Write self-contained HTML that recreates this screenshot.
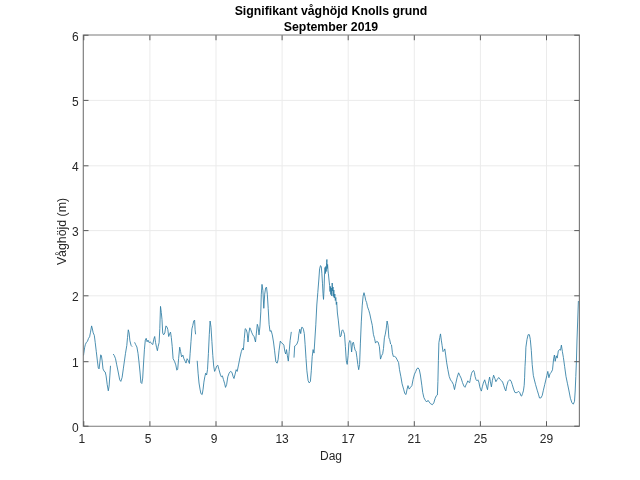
<!DOCTYPE html>
<html><head><meta charset="utf-8"><style>
html,body{margin:0;padding:0;background:#fff;width:640px;height:480px;overflow:hidden}
svg{display:block;will-change:transform}
text{font-family:"Liberation Sans",sans-serif}
</style></head><body>
<svg width="640" height="480" viewBox="0 0 640 480">
<rect width="640" height="480" fill="#fff"/>
<path d="M149.90 35.25V426.2M216.00 35.25V426.2M282.10 35.25V426.2M348.20 35.25V426.2M414.30 35.25V426.2M480.40 35.25V426.2M546.50 35.25V426.2M83.5 361.70H579.25M83.5 295.80H579.25M83.5 230.60H579.25M83.5 165.80H579.25M83.5 100.40H579.25" stroke="#ebebeb" stroke-width="1" fill="none"/>
<g fill="none" stroke="#2d7ca3" stroke-width="0.85" stroke-linejoin="round"><polyline points="83.5,355.5 83.8,353.3 84.6,347.8 85.3,344.7 86.4,342.3 87.4,341.5 88.5,338.4 89.6,336.8 90.5,332.2 91.6,325.9 92.4,329.0 93.2,332.9 94.3,335.3 95.2,342.3 96.3,351.7 97.4,361.1 98.3,368.1 99.1,368.9 99.9,361.8 100.7,354.8 101.4,355.6 102.2,361.1 103.0,368.9 104.1,371.2 105.2,372.0 106.1,375.9 107.2,384.5 108.3,390.8 109.1,386.1 109.9,375.1 110.5,365.8"/><polyline points="113.2,354.0 114.3,355.6 115.5,358.7 116.6,364.2 118.2,372.0 119.7,379.8 120.8,381.4 122.1,377.5 123.3,368.9 124.4,361.1 125.5,353.3 126.8,345.4 127.5,337.6 128.3,329.8 129.1,332.9 129.9,340.8 131.1,345.4 132.2,346.7"/><polyline points="134.6,342.3 135.7,344.7 136.9,347.0 138.0,353.3 138.9,361.1 140.0,372.0 140.9,382.6 141.8,383.5 142.7,378.1 143.5,364.0 144.4,349.8 145.3,340.1 146.2,338.3 147.1,341.8 148.0,340.1 149.2,342.7 150.3,341.8 151.5,343.6 152.8,344.5 153.8,339.2 154.7,336.5 155.6,342.7 156.5,347.2 157.4,350.7 158.2,346.3 159.1,342.7 159.8,328.6 160.5,306.4 161.3,312.6 162.0,319.7 162.7,333.0 163.6,334.8 164.8,333.0 165.9,325.9 166.9,326.8 167.8,329.4 168.7,336.5 169.6,333.9 170.5,332.1 171.3,337.4 172.2,346.3 173.1,358.7 174.5,361.3 175.8,364.9 176.8,370.2 177.7,369.3 178.6,358.7 179.7,347.2 180.6,351.6 181.6,356.9 182.9,355.1 183.9,358.7 185.2,361.3 186.0,363.1 187.1,358.7 188.2,360.4 189.4,363.5 190.1,353.7 191.0,341.3 191.9,328.9 192.8,325.4 193.7,321.0 194.6,320.1 195.1,329.8 195.6,334.3"/><polyline points="197.2,360.8 198.1,373.2 199.0,383.0 200.0,389.1 200.9,393.6 202.2,394.5 203.1,389.1 203.9,382.1 204.8,376.8 205.7,373.2 206.6,375.0 207.5,369.7 208.4,353.7 209.3,334.3 210.1,321.0 211.0,327.2 211.9,341.3 212.8,355.5 213.7,366.1 214.6,371.4 215.4,369.7 216.7,366.1 217.8,365.2 219.0,369.7 220.2,374.1 221.3,376.8 222.4,375.9 223.4,379.4 224.7,383.8 225.5,387.4 226.6,384.7 227.8,376.8 229.1,373.2 230.5,371.4 231.9,372.3 233.2,376.8 234.0,378.5 235.1,374.1 236.2,369.7 237.2,371.4 238.7,364.1 239.9,357.9 241.3,351.7 242.6,348.2 243.4,349.9 244.3,338.4 245.2,328.7 246.3,329.6 247.2,333.1 248.0,342.0 248.9,333.1 249.8,327.8 250.7,329.6 251.6,332.2 252.8,334.9 254.1,336.7 255.5,342.0 256.4,333.1 257.3,324.3 258.1,326.9 259.0,334.9 259.9,326.9 260.8,311.9 261.3,294.2 262.0,284.4 262.9,290.6 263.8,308.3 264.7,294.2 265.6,288.0 266.5,287.1 267.3,294.2 268.2,308.3 269.1,324.3 270.0,331.4 271.1,330.5 272.3,334.9 273.5,342.0 274.6,350.8 275.8,361.5 277.1,363.2 278.1,359.7 279.0,350.8 280.3,341.1 281.5,342.9 282.9,343.8 283.9,345.2 284.8,351.4 285.7,354.0 286.5,349.6 287.4,355.8 288.3,361.1 289.2,351.4 290.1,340.7 291.3,331.9"/><polyline points="294.0,357.6 294.7,346.0 295.8,345.2 296.8,344.3 298.1,340.7 298.9,333.6 299.8,329.2 300.7,333.6 301.6,327.4 302.5,327.4 303.4,329.2 304.3,333.6 305.1,344.3 306.0,358.4 306.9,370.8 308.1,380.6 309.2,382.9 310.4,381.5 311.3,370.8 312.2,356.7 313.1,349.6 314.0,353.1 314.9,339.0 315.8,324.8 316.8,305.0 317.8,292.5 318.8,280.0 319.6,268.8 320.5,265.6 321.3,266.9 321.9,273.8 322.5,283.8 323.0,293.8 323.5,299.4 324.0,290.0 324.5,275.0 325.0,267.5 325.4,273.5 325.8,266.5 326.2,271.5 326.6,262.5 326.9,259.5 327.2,268.5 327.6,264.5 328.0,271.0 328.4,273.8 329.0,280.0 329.6,285.6 330.0,291.5 330.4,286.5 330.8,294.5 331.3,288.0 331.8,296.0 332.2,283.0 332.6,291.0 333.0,287.0 333.4,296.5 333.8,290.0 334.3,298.0 334.8,294.0 335.3,300.5 335.8,297.5 336.3,304.5 336.7,302.0 337.0,307.0 337.4,313.0 338.3,320.1 339.2,329.0 340.1,336.9 341.0,336.0 341.9,330.7 342.7,329.8 343.6,331.6 344.5,334.3 345.4,346.7 346.3,360.8 347.2,364.4 348.1,355.5 348.9,343.1 349.8,340.5 350.7,341.4 351.6,352.0 352.5,343.1 353.4,342.2 354.3,346.7 355.1,350.2 356.0,351.1 356.9,357.3 357.8,364.4 358.7,369.7 359.6,364.4 360.4,343.1 361.3,321.9 362.2,305.9 363.1,296.2 364.0,292.7 364.9,296.2 365.8,300.6 366.6,302.4 367.5,306.8 368.8,310.4 369.8,313.9 371.1,320.1 372.3,325.4 373.4,334.3 374.6,338.7 375.5,343.1 376.7,341.4 378.2,342.2 379.4,346.7 380.5,359.1 381.7,355.5 382.7,353.7 383.5,348.4 384.4,337.8 385.3,334.2 386.2,328.9 387.1,321.0 388.0,325.4 388.9,337.8 389.7,339.6 390.6,344.0 391.5,344.9 392.4,352.8 393.3,356.4 394.5,356.4 395.9,357.3 397.2,359.9 398.6,362.6 399.5,369.7 400.9,376.8 402.1,383.8 403.6,389.1 404.8,393.6 406.0,394.5 407.1,389.1 408.0,385.6 409.2,389.1 410.5,387.4 411.9,385.6 413.1,379.4 414.5,374.1 415.8,371.4 416.8,368.8 418.1,367.9 419.3,369.7 420.4,375.0 421.8,385.2 422.7,392.3 423.9,397.6 425.3,400.3 426.7,402.0 428.0,400.3 429.2,402.0 430.6,403.8 432.4,404.7 433.8,402.9 435.1,398.5 436.3,395.8 437.4,395.0 437.9,381.7 438.4,360.4 438.9,342.7 439.8,337.4 440.5,333.9 441.3,340.1 442.1,345.4 443.0,351.6 443.9,350.7 444.8,348.9 445.7,355.1 446.6,362.2 447.8,369.3 449.2,376.4 450.5,379.9 451.9,381.7 453.3,384.3 454.5,389.6 455.8,383.4 457.2,377.2 458.6,372.8 459.8,375.5 461.1,378.1 462.5,382.6 463.9,386.1 465.0,387.3 465.9,385.0 466.9,383.1 467.8,380.8 468.7,382.2 469.7,382.6 470.6,377.5 471.6,373.3 472.5,371.4 473.6,370.5 474.4,372.3 475.1,376.6 476.1,379.8 477.0,380.8 477.9,379.8 478.9,382.2 479.8,386.9 480.7,389.7 481.4,391.1 482.3,386.9 483.3,383.1 484.7,379.8 485.6,383.1 486.7,386.9 487.5,389.7 488.4,383.1 489.6,377.0 490.3,381.2 491.4,386.9 492.4,380.3 493.6,375.2 494.8,378.4 495.9,381.7 497.3,379.4 498.7,377.5 500.1,379.4 501.6,380.8 502.6,382.0 503.7,385.3 504.9,389.1 505.8,390.9 506.7,386.2 508.0,381.6 509.8,379.7 511.1,381.1 512.2,384.4 513.6,389.1 514.8,392.3 516.1,392.8 517.3,392.3 518.7,391.4 519.9,392.8 520.8,395.6 521.6,396.1 522.5,393.7 523.4,390.9 524.2,385.3 524.6,377.8 525.0,366.6 525.5,358.1 525.9,347.2 527.0,339.4 528.1,334.7 529.4,334.7 530.3,339.4 531.3,350.3 532.2,364.4 533.3,375.3 534.4,380.0 535.6,384.7 537.2,390.2 538.4,394.1 539.5,398.0 540.8,398.0 542.2,395.6 543.4,390.2 544.7,384.7 545.8,380.0 546.9,375.3 547.8,371.4 548.9,377.7 550.0,373.8 551.3,372.2 552.5,369.8 553.6,358.9 554.4,355.0 555.2,361.3 556.3,355.8 557.2,358.1 558.3,351.1 559.5,349.5 560.5,350.2 561.4,345.1 562.4,351.7 563.4,357.5 564.6,366.3 566.0,376.5 567.5,383.8 569.0,391.0 570.4,398.3 571.9,402.7 573.3,404.2 574.5,401.3 575.2,391.0 575.8,376.5 576.4,361.9 577.0,340.0 578.4,301.0"/></g>
<path d="M83.3 35.0V426.25M579.4 35.0V426.25M83.3 35.0H579.4M83.3 426.25H579.4" fill="none" stroke="#7a7a7a" stroke-width="1.15" stroke-linecap="square"/>
<path d="M83.80 426.2v-5M83.80 35.25v5M149.90 426.2v-5M149.90 35.25v5M216.00 426.2v-5M216.00 35.25v5M282.10 426.2v-5M282.10 35.25v5M348.20 426.2v-5M348.20 35.25v5M414.30 426.2v-5M414.30 35.25v5M480.40 426.2v-5M480.40 35.25v5M546.50 426.2v-5M546.50 35.25v5M83.5 426.20h5M579.25 426.20h-5M83.5 361.70h5M579.25 361.70h-5M83.5 295.80h5M579.25 295.80h-5M83.5 230.60h5M579.25 230.60h-5M83.5 165.80h5M579.25 165.80h-5M83.5 100.40h5M579.25 100.40h-5M83.5 35.25h5M579.25 35.25h-5" stroke="#5a5a5a" stroke-width="1.0" fill="none"/>
<g font-size="12" fill="#262626" text-anchor="middle"><text x="81.90" y="443.2">1</text><text x="148.00" y="443.2">5</text><text x="214.10" y="443.2">9</text><text x="282.10" y="443.2">13</text><text x="348.20" y="443.2">17</text><text x="414.30" y="443.2">21</text><text x="480.40" y="443.2">25</text><text x="546.50" y="443.2">29</text></g>
<g font-size="12" fill="#262626" text-anchor="end"><text x="78.8" y="431.80">0</text><text x="78.8" y="367.30">1</text><text x="78.8" y="301.40">2</text><text x="78.8" y="236.20">3</text><text x="78.8" y="171.40">4</text><text x="78.8" y="106.00">5</text><text x="78.8" y="40.85">6</text></g>
<text x="331" y="459.5" font-size="12" fill="#262626" text-anchor="middle">Dag</text>
<text transform="translate(66.0,231.5) rotate(-90)" font-size="12.35" fill="#262626" text-anchor="middle">Våghöjd (m)</text>
<text x="331" y="14.8" font-size="12.3" font-weight="bold" fill="#000" text-anchor="middle">Signifikant våghöjd Knolls grund</text>
<text x="331" y="30.8" font-size="12.3" font-weight="bold" fill="#000" text-anchor="middle">September 2019</text>
</svg>
</body></html>
